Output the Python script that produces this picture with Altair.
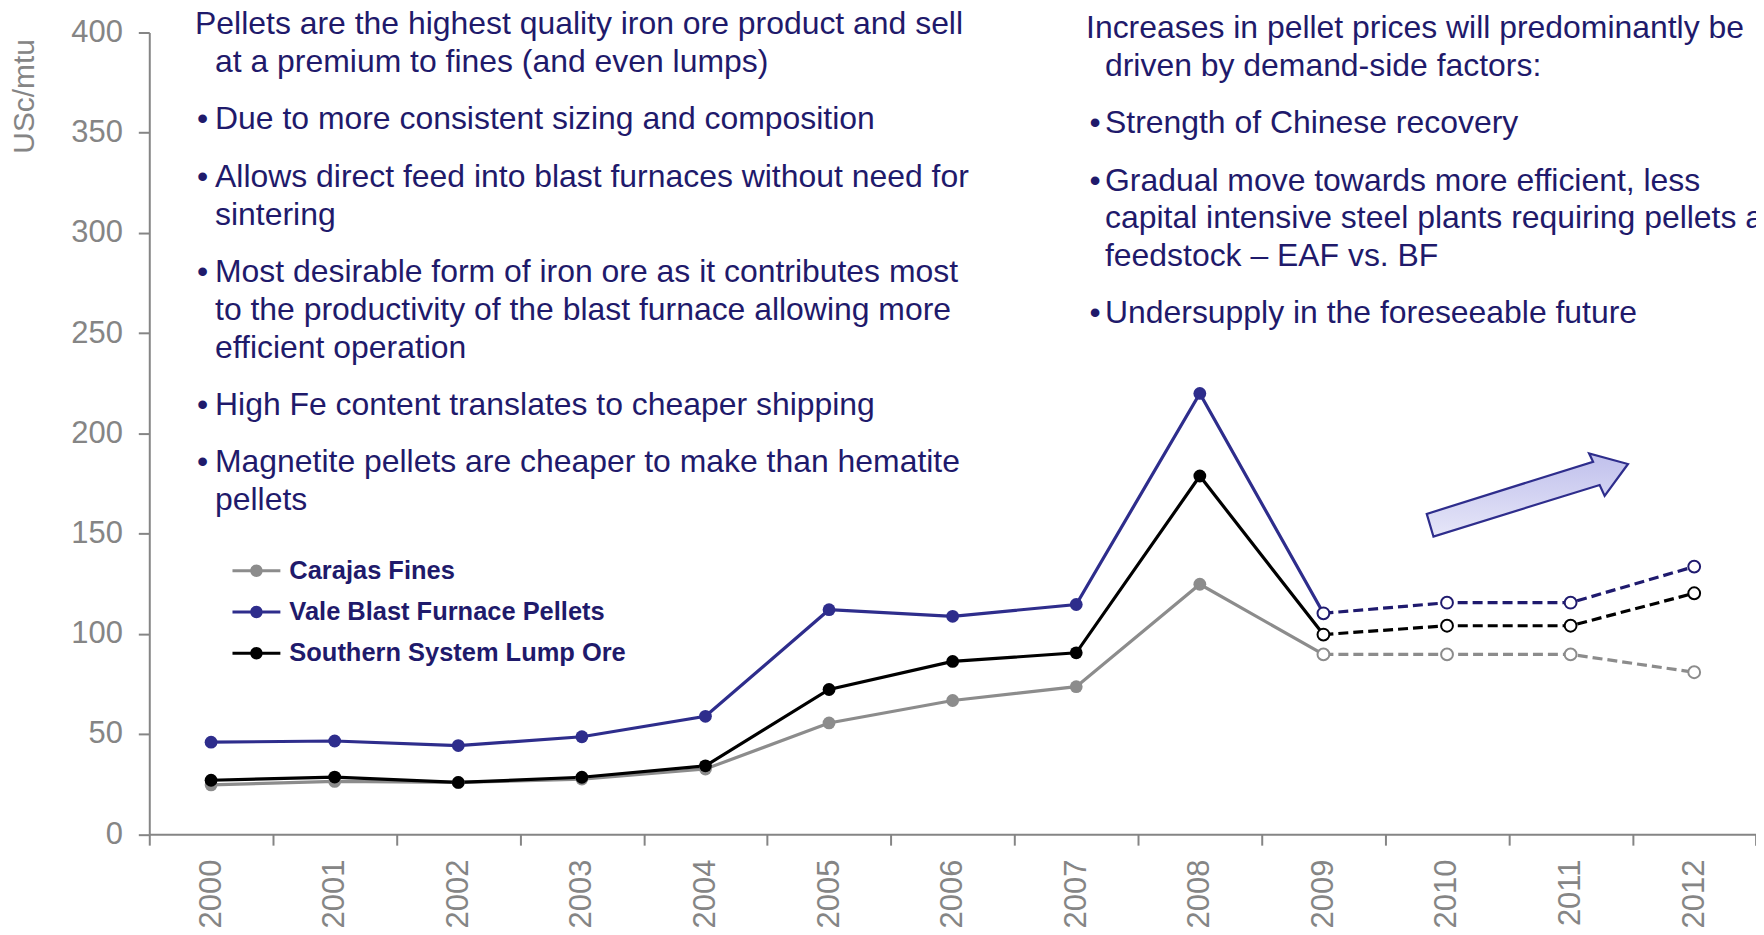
import altair as alt
import pandas as pd

# ---------------- data ----------------
years = ["2000", "2001", "2002", "2003", "2004", "2005", "2006",
         "2007", "2008", "2009", "2010", "2011", "2012"]
carajas = [24.6, 26.3, 25.8, 27.5, 32.5, 55.5, 66.7, 73.6, 124.7, 89.7, 89.7, 89.7, 80.8]
vale = [45.9, 46.5, 44.2, 48.6, 58.8, 112.0, 108.7, 114.6, 219.9, 110.2, 115.5, 115.5, 133.5]
southern = [26.9, 28.5, 25.8, 28.4, 34.1, 72.2, 86.2, 90.5, 178.7, 99.6, 104.0, 104.0, 120.2]

series_names = ["Carajas Fines", "Vale Blast Furnace Pellets", "Southern System Lump Ore"]
series_values = [carajas, vale, southern]
series_colors = ["#8c8c8c", "#2e2d8c", "#000000"]
dash_colors = ["#8c8c8c", "#1f1a6e", "#000000"]

first_forecast_year = "2009"   # hollow markers and dashed line from here on
y_ticks = [0, 50, 100, 150, 200, 250, 300, 350, 400]

left_paras = [
    (False, ["Pellets are the highest quality iron ore product and sell",
             "at a premium to fines (and even lumps)"]),
    (True, ["Due to more consistent sizing and composition"]),
    (True, ["Allows direct feed into blast furnaces without need for",
            "sintering"]),
    (True, ["Most desirable form of iron ore as it contributes most",
            "to the productivity of the blast furnace allowing more",
            "efficient operation"]),
    (True, ["High Fe content translates to cheaper shipping"]),
    (True, ["Magnetite pellets are cheaper to make than hematite",
            "pellets"]),
]
right_paras = [
    (False, ["Increases in pellet prices will predominantly be",
             "driven by demand-side factors:"]),
    (True, ["Strength of Chinese recovery"]),
    (True, ["Gradual move towards more efficient, less",
            "capital intensive steel plants requiring pellets as",
            "feedstock \u2013 EAF vs. BF"]),
    (True, ["Undersupply in the foreseeable future"]),
]

# ---------------- layout / style ----------------
FONT = "Liberation Sans, Arial, Helvetica, sans-serif"
NAVY = "#1f1a6b"
AXIS_GRAY = "#858585"

PLOT_LEFT, PLOT_TOP = 149.6, 31.5        # page px of the plot origin
PLOT_RIGHT, PLOT_BOTTOM = 1760.0, 835.0
W = PLOT_RIGHT - PLOT_LEFT
H = PLOT_BOTTOM - PLOT_TOP
MARGIN = 8

# ---------------- tables ----------------
rows = []
fidx = years.index(first_forecast_year)
for name, vals in zip(series_names, series_values):
    for i, (yr, v) in enumerate(zip(years, vals)):
        rows.append({"series": name, "year": yr, "value": v, "i": i})
df = pd.DataFrame(rows)


def text_rows(paras, x_first, x_bullet, x_text, base0, step=37.8, gap=19.8):
    out = []
    y = base0
    for p, (bullet, lines) in enumerate(paras):
        if p > 0:
            y += gap
        for j, line in enumerate(lines):
            if bullet and j == 0:
                out.append({"text": "\u2022", "px": x_bullet - PLOT_LEFT, "py": y - PLOT_TOP})
            x = x_text if (bullet or j > 0) else x_first
            out.append({"text": line, "px": x - PLOT_LEFT, "py": y - PLOT_TOP})
            y += step
    return out


text_df = pd.DataFrame(
    text_rows(left_paras, 195.5, 197.5, 215.5, 33.3)
    + text_rows(right_paras, 1088.5, 1092.0, 1107.5, 36.9)
)

x_enc = alt.X(
    "year:O", bandPosition=0.5,
    scale=alt.Scale(type="band", paddingInner=0, paddingOuter=0),
    axis=alt.Axis(
        title=None, labelAngle=270, labelAlign="right", labelBaseline="middle",
        labelFont=FONT, labelFontSize=31, labelColor=AXIS_GRAY, labelPadding=14,
        tickBand="extent", tickSize=11, tickWidth=2, tickColor=AXIS_GRAY,
        domainColor=AXIS_GRAY, domainWidth=2, grid=False, labelOverlap=False,
    ),
)
y_enc = alt.Y(
    "value:Q",
    scale=alt.Scale(domain=[0, 400], nice=False, zero=True),
    axis=alt.Axis(
        values=y_ticks, title="USc/mtu", titleFont=FONT, titleFontSize=30,
        titleFontWeight="normal", titleColor=AXIS_GRAY, titleAngle=270,
        titleAlign="right", titleBaseline="middle", titleX=-124.6, titleY=6,
        labelFont=FONT, labelFontSize=31, labelColor=AXIS_GRAY, labelPadding=16,
        tickSize=11, tickWidth=2, tickColor=AXIS_GRAY,
        domainColor=AXIS_GRAY, domainWidth=2, grid=False,
    ),
)

solid_layers, dashed_layers, hollow_layers = [], [], []
for name, col, dcol in zip(series_names, series_colors, dash_colors):
    sdf = df[df["series"] == name]
    solid_layers.append(
        alt.Chart(sdf[sdf["i"] <= fidx]).mark_line(strokeWidth=3.2, color=col)
        .encode(x=x_enc, y=y_enc)
    )
    dashed_layers.append(
        alt.Chart(sdf[sdf["i"] >= fidx]).mark_line(strokeWidth=3.2, color=dcol, strokeDash=[10, 5])
        .encode(x=x_enc, y=y_enc)
    )
    hollow_layers.append(
        alt.Chart(sdf[sdf["i"] >= fidx]).mark_point(
            filled=False, shape="circle", size=140, fill="white", stroke=dcol,
            strokeWidth=2, opacity=1
        ).encode(x=x_enc, y=y_enc)
    )

legend_symbol = ("M-1,-0.065H1V0.065H-1Z"
                 "M-0.26,0A0.26,0.26,0,1,1,0.26,0A0.26,0.26,0,1,1,-0.26,0Z")
filled_points = alt.Chart(df[df["i"] < fidx]).mark_point(
    filled=True, shape="circle", size=165, opacity=1
).encode(
    x=x_enc, y=y_enc,
    color=alt.Color(
        "series:N",
        scale=alt.Scale(domain=series_names, range=series_colors),
        legend=alt.Legend(
            title=None, orient="none", legendX=83.4, legendY=515.5,
            symbolType=legend_symbol, symbolSize=2304, symbolStrokeWidth=0,
            symbolOpacity=1, labelFont=FONT, labelFontSize=25.5,
            labelFontWeight="bold", labelColor=NAVY, labelOffset=9,
            labelLimit=600, rowPadding=3.3, padding=0, direction="vertical",
        ),
    ),
)

arrow_path = ("M-93.3,41.7L-100,19L66.7,-33.3L62.7,-41.7"
              "L101.7,-31L78.3,1L73.3,-10Z")
arrow = alt.Chart(pd.DataFrame({"k": [0]})).mark_point(
    shape=arrow_path, size=4, filled=True, opacity=1,
    fill=alt.LinearGradient(
        gradient="linear",
        stops=[alt.GradientStop(color="#c0c0ec", offset=0),
               alt.GradientStop(color="#e6e6f8", offset=1)],
        x1=0, y1=0, x2=0, y2=1,
    ),
    stroke="#2e2d8c", strokeWidth=2.2,
).encode(
    x=alt.value(1530 - PLOT_LEFT), y=alt.value(495 - PLOT_TOP)
)

data_layer = alt.layer(*solid_layers, *dashed_layers, filled_points, *hollow_layers, arrow)

text_layer = alt.Chart(text_df).mark_text(
    align="left", baseline="alphabetic", font=FONT, fontSize=32, color=NAVY
).encode(
    x=alt.X("px:Q", scale=None, axis=None),
    y=alt.Y("py:Q", scale=None, axis=None),
    text="text:N",
)

chart = alt.layer(data_layer, text_layer).resolve_scale(
    x="independent", y="independent"
).properties(
    width=W, height=H,
    autosize=alt.AutoSizeParams(type="none"),
    padding={"left": PLOT_LEFT - MARGIN, "top": PLOT_TOP - MARGIN,
             "right": 0, "bottom": 100},
    background="white",
).configure_view(stroke=None)

chart.save("out.html", embed_options={"renderer": "svg", "actions": False})
